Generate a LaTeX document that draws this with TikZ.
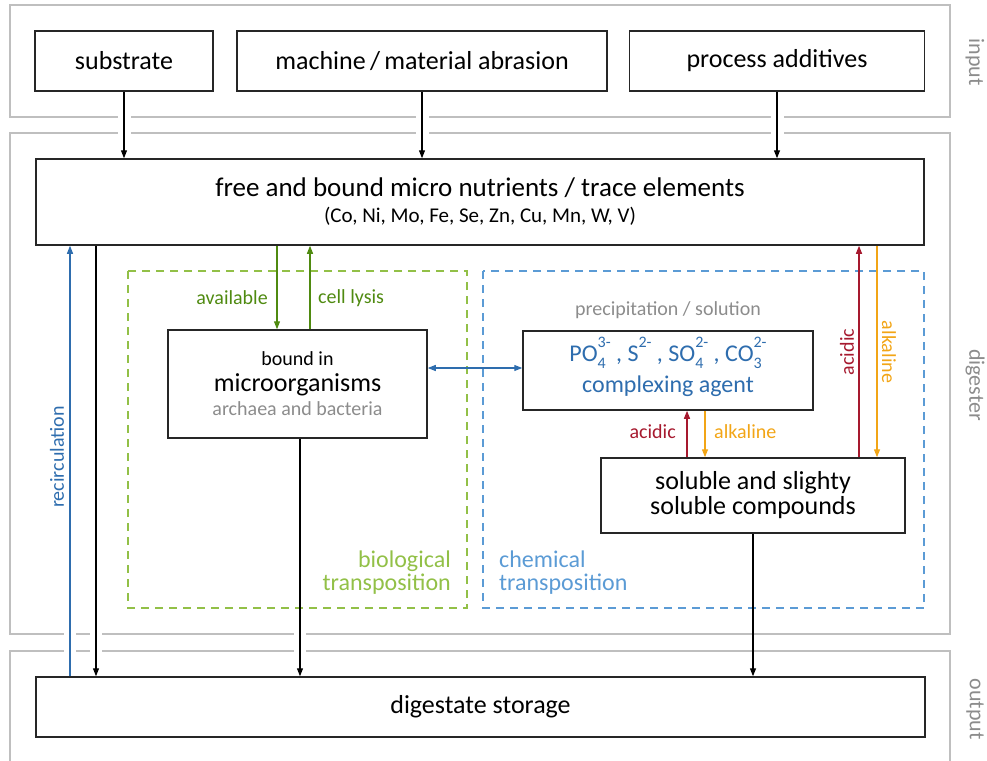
\documentclass[tikz,border=0pt]{standalone}
\usepackage{fontspec}
\setmainfont{Carlito}
\usetikzlibrary{arrows.meta}
\definecolor{grpgray}{HTML}{BFBFBF}
\definecolor{txtgray}{HTML}{8C8C8C}
\definecolor{boxline}{HTML}{262626}
\definecolor{dblue}{HTML}{2E6DAE}
\definecolor{lblue}{HTML}{5B9BD5}
\definecolor{dgreen}{HTML}{4F8A10}
\definecolor{lgreen}{HTML}{92C047}
\definecolor{dred}{HTML}{A6192E}
\definecolor{dorange}{HTML}{F2A516}
\newcommand{\fs}[1]{\fontsize{#1}{#1}\selectfont}
\newcommand{\chemion}[3]{#1\rlap{\raisebox{-0.3em}{\fs{16}#2}}\raisebox{0.55em}{\fs{16}#3}}
\begin{document}
\begin{tikzpicture}[x=1pt,y=-1pt,
  box/.style={draw=boxline, line width=1.5pt, fill=white, inner sep=0pt, align=center, font=\fs{26}},
  grp/.style={draw=grpgray, line width=1.5pt},
  arr/.style={line width=1.3pt, -{Triangle[length=8pt,width=6pt]}},
  lab/.style={inner sep=0pt, font=\fs{20}},
  side/.style={inner sep=0pt, font=\fs{22}, text=txtgray, rotate=-90},
  trans/.style={inner sep=0pt, font=\fs{24}}
]
\useasboundingbox (0,0) rectangle (987,760);
% group frames
\draw[grp] (10,5) rectangle (950,117);
\draw[grp] (10,133) rectangle (950,634);
\draw[grp] (10,775) -- (10,651) -- (950,651) -- (950,775);
\node[side] (lin) at (975,62) {input};
\node[side] (ldig) at (975,385) {digester};
\node[side] (lout) at (975,709) {output};
% dashed transposition frames
\draw[lgreen, line width=1.4pt, dash pattern=on 8pt off 6pt] (128,271) rectangle (467,608);
\draw[lblue, line width=1.4pt, dash pattern=on 8pt off 6pt] (483,271) rectangle (924,608);
\node[trans, text=lgreen, align=right, anchor=east] (lbio) at (451,573) {biological\\[-1pt]transposition};
\node[trans, text=lblue, align=left, anchor=west] (lchem) at (499,573) {chemical\\[-1pt]transposition};
% column coordinates
\coordinate (c70) at (70,0);
\coordinate (c96) at (96,0);
\coordinate (c277) at (277,0);
\coordinate (c310) at (310,0);
\coordinate (c300) at (300,0);
\coordinate (c687) at (687,0);
\coordinate (c705) at (705,0);
\coordinate (c753) at (753,0);
\coordinate (c859) at (859,0);
\coordinate (c877) at (877,0);
\coordinate (r368) at (0,368);
% white gaps in the gray frames
\foreach \x in {124,422,777} {\fill[white] (\x-6.5,113) rectangle (\x+6.5,121); \fill[white] (\x-6.5,129) rectangle (\x+6.5,137);}
\foreach \x in {70,96,300} {\fill[white] (\x-6,630) rectangle (\x+6,638); \fill[white] (\x-6,647) rectangle (\x+6,655);}
% boxes
\node[box, minimum width=178pt, minimum height=60pt] (sub) at (124,61) {substrate};
\node[box, minimum width=370pt, minimum height=60pt] (mach) at (422,61) {machine\,/\,material abrasion};
\node[box, minimum width=295pt, minimum height=60pt] (proc) at (777,61) {process additives};
\node[box, minimum width=888pt, minimum height=86pt] (free) at (480,202) {};
\node[inner sep=0pt, font=\fs{27}] (freet) at (480,188) {free and bound micro nutrients / trace elements};
\node[inner sep=0pt, font=\fs{21}] (frees) at (480,216) {(Co, Ni, Mo, Fe, Se, Zn, Cu, Mn, W, V)};
\node[box, minimum width=259pt, minimum height=108pt] (micro) at (297.5,384) {};
\node[inner sep=0pt, font=\fs{20}] (micro1) at (297.5,359) {bound in};
\node[inner sep=0pt, font=\fs{26}] (micro2) at (297.5,385) {microorganisms};
\node[inner sep=0pt, font=\fs{20}, text=txtgray] (micro3) at (297.5,409) {archaea and bacteria};
\node[box, minimum width=290pt, minimum height=79pt] (comp) at (668,370.5) {};
\node[inner sep=0pt, font=\fs{24}, text=dblue] (comp1) at (668,353) {\chemion{PO}{4}{3-} , S\raisebox{0.55em}{\fs{16}2-} , \chemion{SO}{4}{2-} , \chemion{CO}{3}{2-}};
\node[inner sep=0pt, font=\fs{24}, text=dblue] (comp2) at (668,386) {complexing agent};
\node[box, minimum width=304pt, minimum height=75pt] (sol) at (753,495.5) {soluble and slighty\\[-1pt]soluble compounds};
\node[box, minimum width=889pt, minimum height=60pt] (dig) at (480.5,707) {digestate storage};
% input arrows
\draw[arr] (sub.south) -- (sub.south |- free.north);
\draw[arr] (mach.south) -- (mach.south |- free.north);
\draw[arr] (proc.south) -- (proc.south |- free.north);
% recirculation and outputs
\draw[arr, dblue] (dig.north -| c70) -- (free.south -| c70);
\node[lab, text=dblue, rotate=90] (lrec) at (57,457) {recirculation};
\draw[arr] (free.south -| c96) -- (dig.north -| c96);
\draw[arr] (micro.south -| c300) -- (dig.north -| c300);
\draw[arr] (sol.south -| c753) -- (dig.north -| c753);
% biological
\draw[arr, dgreen] (free.south -| c277) -- (micro.north -| c277);
\draw[arr, dgreen] (micro.north -| c310) -- (free.south -| c310);
\node[lab, text=dgreen, anchor=east] (lavail) at (268,298) {available};
\node[lab, text=dgreen, anchor=west] (llys) at (318,298) {cell lysis};
% exchange
\draw[line width=1.3pt, dblue, {Triangle[length=8pt,width=6pt]}-{Triangle[length=8pt,width=6pt]}] (micro.east |- r368) -- (comp.west |- r368);
\node[lab, text=txtgray] (lprec) at (668,310) {precipitation / solution};
% chemical
\draw[arr, dred] (sol.north -| c687) -- (comp.south -| c687);
\draw[arr, dorange] (comp.south -| c705) -- (sol.north -| c705);
\node[lab, text=dred, anchor=east] (lac1) at (676,432) {acidic};
\node[lab, text=dorange, anchor=west] (lal1) at (714,432) {alkaline};
\draw[arr, dred] (sol.north -| c859) -- (free.south -| c859);
\draw[arr, dorange] (free.south -| c877) -- (sol.north -| c877);
\node[lab, text=dred, rotate=90] (lac2) at (847,352) {acidic};
\node[lab, text=dorange, rotate=-90] (lal2) at (889,352) {alkaline};
\end{tikzpicture}
\end{document}
